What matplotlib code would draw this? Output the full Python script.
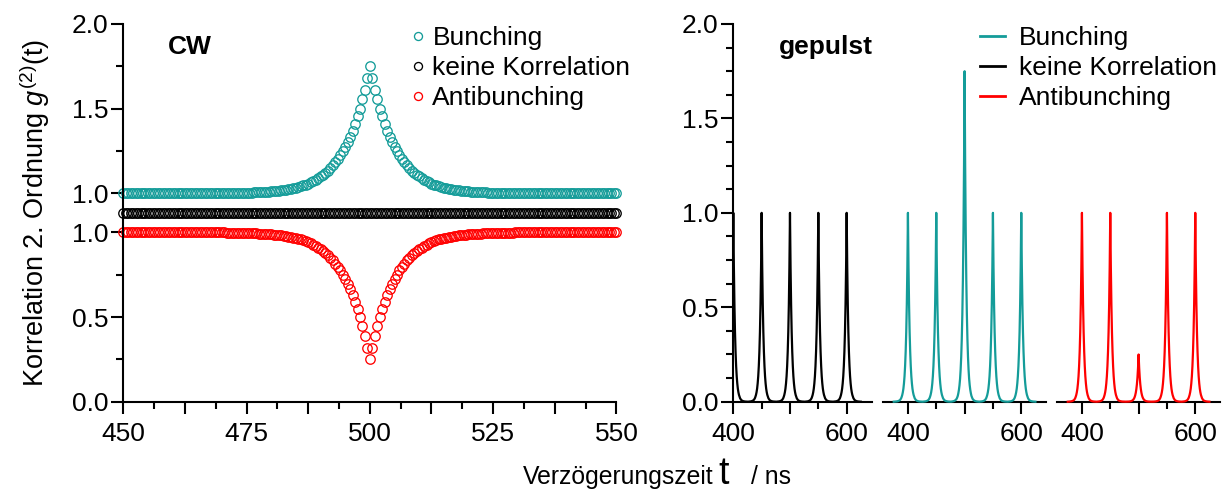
import numpy as np
import matplotlib
matplotlib.use('Agg')
import matplotlib.pyplot as plt
from matplotlib.lines import Line2D
from matplotlib.patches import Rectangle

plt.rcParams['font.family'] = ['Liberation Sans', 'DejaVu Sans']
plt.rcParams['mathtext.fontset'] = 'custom'
plt.rcParams['mathtext.rm'] = 'Liberation Sans'
plt.rcParams['mathtext.it'] = 'Liberation Sans:italic'

#=============================================
#   DATA
#=============================================

labels = ['Bunching', 'keine Korrelation', 'Antibunching']

# CW: excess correlation |g2 - 1| vs. delay offset from 500 ns, 0..30 ns in 0.5 ns steps
cw_center = 500
cw_range = (450, 550)
cw_step = 0.5
cw_excess = [0.75, 0.68, 0.61, 0.555, 0.50, 0.455, 0.41, 0.37, 0.335, 0.305,
             0.275, 0.25, 0.225, 0.205, 0.185, 0.165, 0.15, 0.135, 0.12, 0.11,
             0.10, 0.09, 0.08, 0.072, 0.065, 0.058, 0.052, 0.047, 0.042, 0.038,
             0.034, 0.031, 0.028, 0.025, 0.022, 0.02, 0.018, 0.016, 0.015, 0.013,
             0.012, 0.011, 0.01, 0.009, 0.008, 0.007, 0.0065, 0.006, 0.005, 0.0045,
             0.004, 0.0035, 0.003, 0.003, 0.0025, 0.002, 0.002, 0.0015, 0.0015, 0.001,
             0.001]
cw_level = 1.0

# gepulst: single pulse shape vs. offset from pulse centre, 0..25 ns in 1 ns steps
pulse_centers = [400, 450, 500, 550, 600]
pulse_shape = [1.0, 0.717, 0.513, 0.368, 0.264, 0.189, 0.135, 0.097, 0.069, 0.05,
               0.036, 0.026, 0.018, 0.013, 0.009, 0.0067, 0.0048, 0.0035, 0.0025, 0.0018,
               0.0013, 0.0009, 0.0007, 0.0005, 0.0, 0.0]
heights_uncorr = [1.0, 1.0, 1.0, 1.0, 1.0]
heights_bunch = [1.0, 1.0, 1.75, 1.0, 1.0]
heights_anti = [1.0, 1.0, 0.25, 1.0, 1.0]

TEAL = '#149c99'
RED = '#ff0000'
BLACK = '#000000'

# vertical shifts used to separate the CW curves on the left panel
UPPER_SHIFT = 0.23
MID_SHIFT = 0.115

W, H = 1231, 490
FS_TICK = 19
FS_TEXT = 19


def box(x0, x1, ytop, ybot):
    return [x0 / W, 1 - ybot / H, (x1 - x0) / W, (ybot - ytop) / H]


def style_axes(ax):
    for s in ['top', 'right']:
        ax.spines[s].set_visible(False)
    for s in ['left', 'bottom']:
        ax.spines[s].set_linewidth(1.5)
    ax.tick_params(which='both', direction='out', width=1.5, labelsize=FS_TICK)
    ax.tick_params(which='major', length=8.5)
    ax.tick_params(which='minor', length=5)
    ax.tick_params(axis='x', pad=6)
    ax.tick_params(axis='y', pad=2.5)


def mirror(half):
    half = list(half)
    return np.array(half[::-1] + half[1:])


def pulse_train(heights):
    off = np.arange(-(len(pulse_shape) - 1), len(pulse_shape))
    shape = mirror(pulse_shape)
    t = np.concatenate([c + off for c in pulse_centers])
    y = np.concatenate([h * shape for h in heights])
    return t, y


fig = plt.figure(figsize=(W / 100, H / 100), dpi=100)

#=============================================
#   CW PANEL
#=============================================

t_cw = np.arange(cw_range[0], cw_range[1] + cw_step / 2, cw_step)
excess = mirror(cw_excess)
pad = (len(t_cw) - len(excess)) // 2
excess = np.concatenate([np.zeros(pad), excess, np.zeros(pad)])
g_bunch = cw_level + excess
g_anti = cw_level - excess
g_flat = np.full(len(t_cw), cw_level)

ax = fig.add_axes(box(123.3, 616.4, 24, 401.7))
style_axes(ax)
mk = dict(marker='o', ls='none', mfc='none', ms=6.8, mew=0.95, clip_on=False)
h_b, = ax.plot(t_cw, g_bunch + UPPER_SHIFT, color=TEAL, **mk)
h_n, = ax.plot(t_cw, g_flat + MID_SHIFT, color=BLACK, **mk)
h_a, = ax.plot(t_cw, g_anti, color=RED, **mk)

ax.set_xlim(*cw_range)
ax.set_ylim(0, 2.0 + UPPER_SHIFT)
xmaj = np.arange(450, 550.1, 12.5)
ax.set_xticks(xmaj, [f'{x:.0f}' if x % 25 == 0 else '' for x in xmaj])
ax.set_xticks(np.arange(456.25, 550, 12.5), minor=True)
ax.set_yticks([0, 0.5, 1.0, 1.0 + UPPER_SHIFT, 1.5 + UPPER_SHIFT, 2.0 + UPPER_SHIFT],
              ['0.0', '0.5', '1.0', '1.0', '1.5', '2.0'])
ax.set_yticks([0.25, 0.75, 1.25 + UPPER_SHIFT, 1.75 + UPPER_SHIFT], minor=True)

fig.text(168 / W, 1 - 47 / H, 'CW', fontsize=FS_TEXT, fontweight='bold', va='center')
fig.legend([h_b, h_n, h_a], labels, loc='upper left',
           bbox_to_anchor=(410 / W, 1 - 26 / H), frameon=False, borderpad=0,
           borderaxespad=0, handlelength=0.6, handletextpad=0.25, labelspacing=0.23,
           fontsize=FS_TEXT, markerscale=0.85, numpoints=1)

#=============================================
#   PULSED PANELS
#=============================================

subs = [(box(733.3, 871.6, 24, 401.7), (400, 644), heights_uncorr, BLACK),
        (box(883, 1046.2, 24, 401.7), (356, 644), heights_bunch, TEAL),
        (box(1057, 1220.2, 24, 401.7), (356, 644), heights_anti, RED)]

for i, (pos, xlim, heights, col) in enumerate(subs):
    a = fig.add_axes(pos)
    style_axes(a)
    t, y = pulse_train(heights)
    ln, = a.plot(t, y, color=col, lw=1.6, zorder=3)
    # clip only at the left edge so the baseline is not cut in half
    ln.set_clip_path(Rectangle((xlim[0], -0.2), 400, 3, transform=a.transData))
    a.set_xlim(*xlim)
    a.set_ylim(0, 2)
    a.set_xticks([400, 500, 600], ['400', '', '600'])
    a.set_xticks([450, 550], minor=True)
    if i == 0:
        a.set_yticks(np.arange(0, 2.01, 0.5), ['0.0', '0.5', '1.0', '1.5', '2.0'])
        a.set_yticks(np.arange(0.125, 2, 0.125), minor=True)
    else:
        a.spines['left'].set_visible(False)
        a.tick_params(axis='y', which='both', left=False, labelleft=False)

fig.text(779 / W, 1 - 47 / H, 'gepulst', fontsize=FS_TEXT, fontweight='bold', va='center')
handles = [Line2D([], [], color=c, lw=2.0) for c in (TEAL, BLACK, RED)]
fig.legend(handles, labels, loc='upper left', bbox_to_anchor=(980 / W, 1 - 26 / H),
           frameon=False, borderpad=0, borderaxespad=0, handlelength=0.95,
           handletextpad=0.53, labelspacing=0.23, fontsize=FS_TEXT)

#=============================================
#   AXIS LABELS
#=============================================

fig.text(35 / W, 1 - 213 / H, r'Korrelation 2. Ordnung $g^{(2)}$(t)', rotation=90,
         ha='center', va='center', fontsize=19.5)

renderer = fig.canvas.get_renderer()
y_base = 1 - 484 / H
t1 = fig.text(523 / W, y_base, 'Verzögerungszeit', fontsize=17.8, va='baseline')
x = t1.get_window_extent(renderer).x1 + 5
t2 = fig.text(x / W, y_base, 't', fontsize=27, va='baseline')
x = t2.get_window_extent(renderer).x1 + 22
fig.text(x / W, y_base, '/ ns', fontsize=17.8, va='baseline')

fig.savefig('out.png', dpi=100)
